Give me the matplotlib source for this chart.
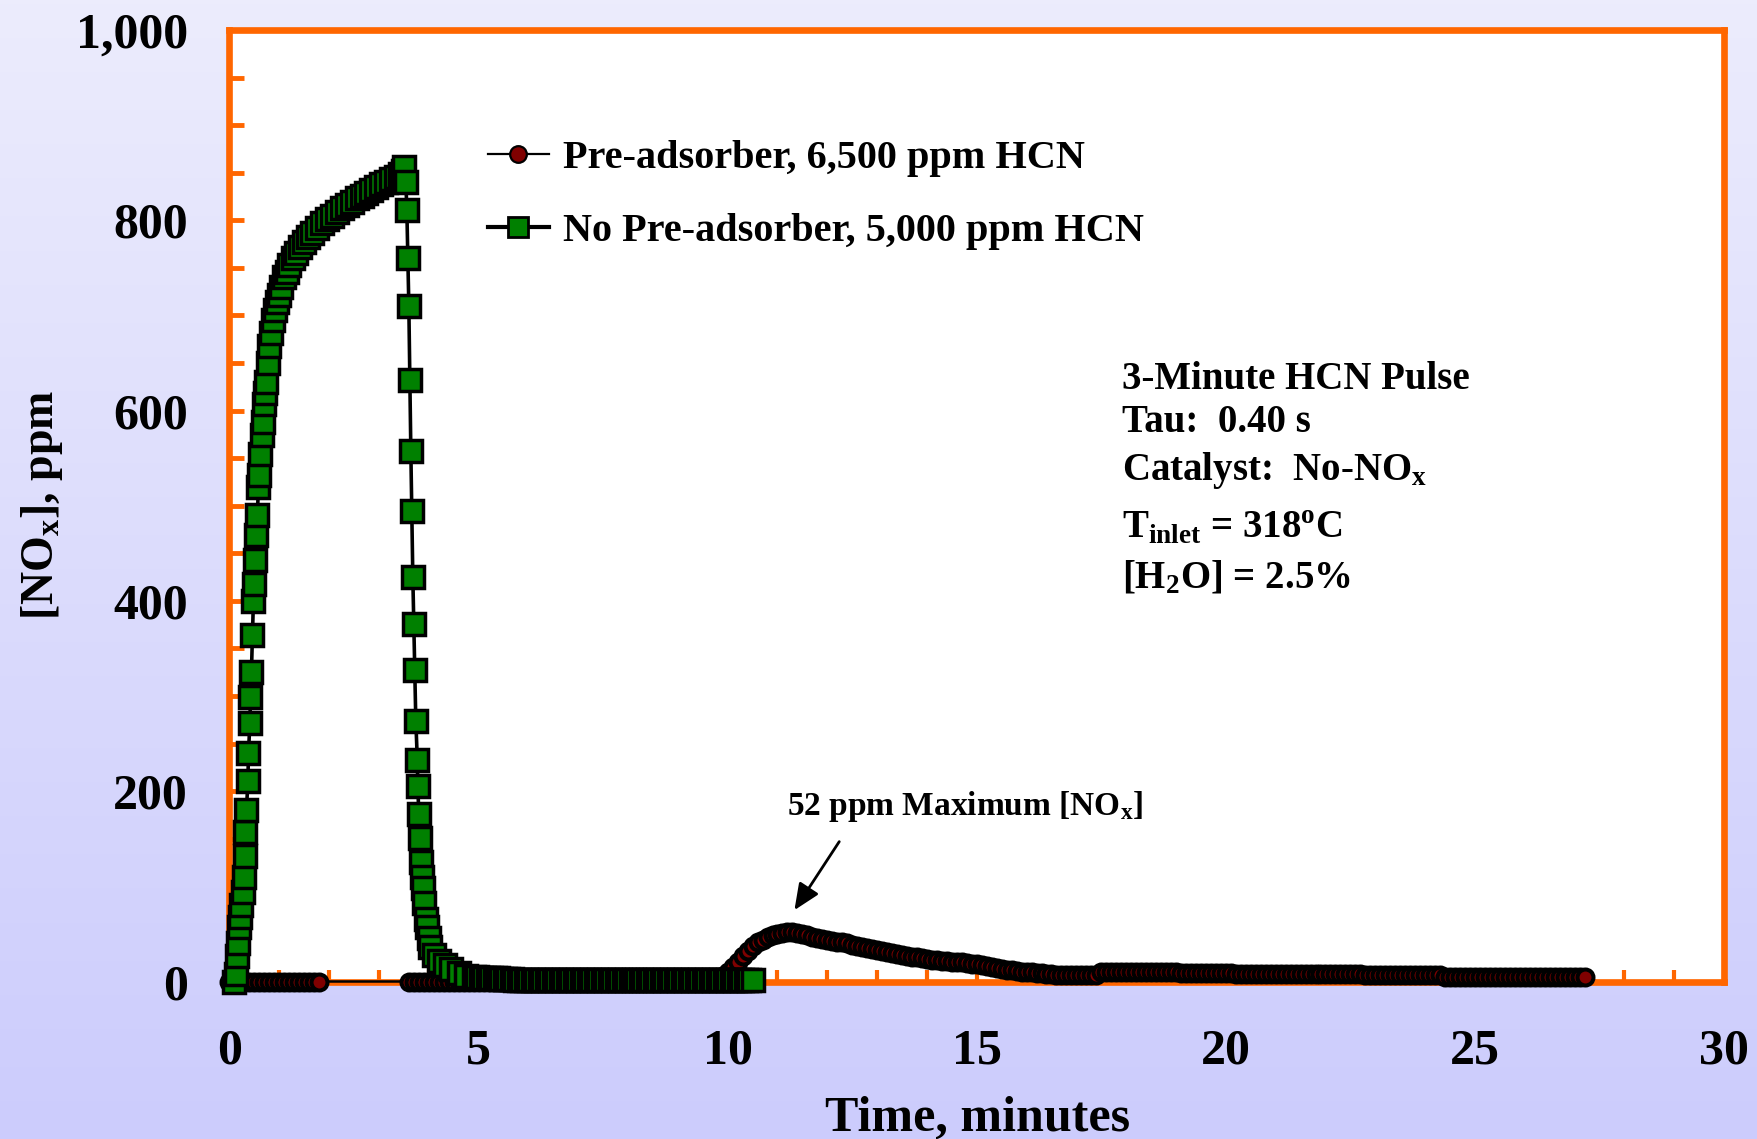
import numpy as np
import matplotlib
matplotlib.use("Agg")
import matplotlib.pyplot as plt
from matplotlib.lines import Line2D
from matplotlib.ticker import MultipleLocator, FuncFormatter

# ---------------------------------------------------------------- data
# Pre-adsorber run (6,500 ppm HCN): logged every 0.1 min in three stretches
red_step = 0.1
red_start_a = 0.0
red_vals_a = [0, 0, 0, 0, 0, 0, 0, 0, 0, 0,
              0, 0, 0, 0, 0, 0, 0, 0, 0]
red_start_b = 3.6
red_vals_b = [0, 0, 0, 0, 0, 0, 0, 0, 0, 0,
              0, 0, 0, 0, 0, 0, 0, 0, 0, 0,
              0, 0, 0, 0, 0, 0, 0, 0, 0, 0,
              0, 0, 0, 0, 0, 0, 0, 0, 0, 0,
              0, 0, 0, 0, 0, 0, 0, 0, 0, 0,
              0, 0, 0, 0, 0, 0, 0, 0, 0, 0,
              0]
red_start_c = 9.7
red_vals_c = [1, 3, 6, 10, 15, 21, 27, 32, 37, 41,
              44, 47, 49, 50, 51, 52, 52, 51, 50, 49,
              47, 46, 45, 44, 43, 42, 41, 40, 38.5, 37,
              36, 35, 34, 33, 32, 31, 30, 29, 28, 27,
              26, 25.5, 24.5, 24, 23, 22.5, 22, 21.5, 21, 20.5,
              20, 19, 18.5, 18, 17, 16, 15, 14, 13.5, 12.5,
              12, 11, 10.5, 10, 9.5, 9, 8.5, 8, 7.5, 7,
              7, 6.5, 6.5, 6.5, 6.5, 7, 7, 7, 10.5, 10.5,
              10.5, 10, 10, 10, 10, 10, 10, 10, 9.5, 9.5,
              9.5, 9.5, 9.5, 9.5, 9, 9, 9, 9, 9, 9,
              9, 9, 9, 9, 9, 7.5, 7.5, 7.5, 7.5, 7.5,
              7.5, 7.5, 7.5, 7.5, 7.5, 7.5, 7.5, 7.5, 7.5, 7.5,
              7.5, 7.5, 7.5, 7.5, 7.5, 7.5, 7.5, 7.5, 7.5, 7.5,
              7.5, 6.5, 6.5, 6.5, 6.5, 6.5, 6.5, 6.5, 6.5, 6.5,
              6.5, 6.5, 6.5, 6.5, 6.5, 6.5, 6.5, 5, 5, 5,
              5, 5, 5, 5, 5, 5, 5, 5, 5, 5,
              5, 5, 5, 5, 5, 5, 5, 5, 5, 5,
              5, 5, 5, 5, 5, 5]

# No pre-adsorber run (5,000 ppm HCN): breakthrough and purge
green_t = [0.10, 0.13, 0.16, 0.18, 0.20, 0.22, 0.24, 0.27, 0.29, 0.31,
           0.32, 0.34, 0.37, 0.38, 0.41, 0.42, 0.44, 0.46, 0.48, 0.50,
           0.52, 0.53, 0.56, 0.58, 0.60, 0.62, 0.65, 0.67, 0.69, 0.71,
           0.74, 0.77, 0.80, 0.84, 0.87, 0.91, 0.95, 0.99, 1.04, 1.10,
           1.15, 1.20, 1.27, 1.34, 1.42, 1.50, 1.58, 1.66, 1.75, 1.85,
           1.95, 2.05, 2.15, 2.25, 2.35, 2.45, 2.55, 2.65, 2.75, 2.85,
           2.95, 3.05, 3.15, 3.25, 3.35, 3.42, 3.48, 3.51,
           3.54, 3.56, 3.58, 3.60, 3.62, 3.64, 3.66, 3.68, 3.70, 3.72,
           3.74, 3.77, 3.78, 3.80, 3.82, 3.84, 3.86, 3.88, 3.91, 3.94,
           3.97, 4.00, 4.03, 4.10, 4.20, 4.32, 4.45, 4.60, 4.75]
green_v = [0, 8, 27, 40, 57, 68, 80, 94, 110, 132,
           157, 180, 211, 240, 272, 299, 325, 364, 400, 418,
           443, 469, 490, 520, 532, 554, 574, 588, 607, 619,
           630, 650, 668, 682, 695, 706, 714, 722, 730, 740,
           746, 753, 760, 766, 772, 777, 782, 787, 792, 797,
           801, 805, 809, 813, 816, 819, 823, 826, 829, 832,
           835, 838, 840, 843, 846, 849, 852, 856,
           840, 811, 760, 710, 632, 558, 494, 425, 376, 327,
           274, 233, 205, 176, 151, 126, 110, 98, 82, 66,
           57, 46, 36, 28, 22, 17, 13, 9, 6]
# after the purge the analyser sat on the baseline, logged every 0.07 min
green_step = 0.07
green_base_start = 4.9
green_base_vals = [5, 5, 4, 4, 4, 4, 4, 4, 3, 3,
                   3, 3, 2, 2, 2, 2, 2, 2, 2, 2,
                   2, 2, 2, 2, 2, 2, 2, 2, 2, 2,
                   2, 2, 2, 2, 2, 2, 2, 2, 2, 2,
                   2, 2, 2, 2, 2, 2, 2, 2, 2, 2,
                   2, 2, 2, 2, 2, 2, 2, 2, 2, 2,
                   2, 2, 2, 2, 2, 2, 2, 2, 2, 2,
                   2, 2, 2, 2, 2, 2, 2, 2, 2, 2,
                   2]

x_ticks = [0, 5, 10, 15, 20, 25, 30]
y_ticks = [0, 200, 400, 600, 800, 1000]

label_red = "Pre-adsorber, 6,500 ppm HCN"
label_green = "No Pre-adsorber, 5,000 ppm HCN"
peak_note = r"52 ppm Maximum [NO$_{x}$]"
peak_xy = (11.34, 75)
info_lines = ["3-Minute HCN Pulse",
              "Tau:  0.40 s",
              r"Catalyst:  No-NO$_{x}$",
              r"T$_{inlet}$ = 318$^{o}$C",
              r"[H$_{2}$O] = 2.5%"]


def seg_times(start, vals, step):
    return np.round(start + step * np.arange(len(vals)), 3)


red_t = np.concatenate([seg_times(red_start_a, red_vals_a, red_step),
                        seg_times(red_start_b, red_vals_b, red_step),
                        seg_times(red_start_c, red_vals_c, red_step)])
red_v = np.array(red_vals_a + red_vals_b + red_vals_c, dtype=float)

g_t = np.concatenate([np.array(green_t),
                      seg_times(green_base_start, green_base_vals, green_step)])
g_v = np.array(green_v + green_base_vals, dtype=float)

# ---------------------------------------------------------------- style
plt.rcParams["font.family"] = ["Liberation Serif", "DejaVu Serif"]
plt.rcParams["font.weight"] = "bold"
plt.rcParams["mathtext.fontset"] = "custom"
plt.rcParams["mathtext.rm"] = "Liberation Serif:bold"
plt.rcParams["mathtext.it"] = "Liberation Serif:bold"
plt.rcParams["mathtext.bf"] = "Liberation Serif:bold"

W, H = 1758, 1139
ORANGE = "#FF6600"
DARKRED = "#800000"
GREEN = "#008000"

fig = plt.figure(figsize=(W / 100, H / 100), dpi=100)


def fx(px):
    return px / W


def fy(py):
    return 1 - py / H


# soft lavender backdrop, lighter at the top
bg = fig.add_axes([0, 0, 1, 1], zorder=-10)
top_c = np.array([236, 236, 252]) / 255
bot_c = np.array([204, 204, 253]) / 255
frac = np.linspace(0, 1, 300)[:, None, None]
grad = top_c[None, None, :] * (1 - frac) + bot_c[None, None, :] * frac
grad = np.repeat(grad, 2, axis=1)
bg.imshow(grad, aspect="auto", extent=[0, 1, 0, 1], origin="upper")
bg.set_axis_off()

left, right, bottom, top = 229.5, 1724, 981.5, 30
ax = fig.add_axes([fx(left), fy(bottom), (right - left) / W, (bottom - top) / H])
ax.set_facecolor("white")
ax.set_xlim(0, 30)
ax.set_ylim(0, 1000)
ax.set_axisbelow(True)

ax.plot(red_t, red_v, color="black", lw=1.8, marker="o", ms=11.5,
        mfc=DARKRED, mec="black", mew=2.9, clip_on=False, zorder=3)
ax.plot(g_t, g_v, color="black", lw=2.6, marker="s", ms=16.5,
        mfc=GREEN, mec="black", mew=2.5, clip_on=False, zorder=4)

for s in ax.spines.values():
    s.set_color(ORANGE)
    s.set_linewidth(4.8)
    s.set_zorder(2.5)

ax.set_xticks(x_ticks)
ax.set_yticks(y_ticks)
ax.xaxis.set_minor_locator(MultipleLocator(1))
ax.yaxis.set_minor_locator(MultipleLocator(50))
ax.yaxis.set_major_formatter(FuncFormatter(lambda v, p: f"{v:,.0f}"))
ax.tick_params(axis="y", which="both", direction="in", length=11, width=3.5,
               color=ORANGE, labelsize=36, pad=30)
ax.tick_params(axis="x", which="both", direction="in", length=9, width=3,
               color=ORANGE, labelsize=36, pad=34)
ax.tick_params(top=False, right=False)
for lab in ax.get_xticklabels() + ax.get_yticklabels():
    lab.set_fontweight("bold")

# axis titles
fig.text(fx(978), fy(1131), "Time, minutes", ha="center", va="baseline",
         fontsize=36, fontweight="bold")
fig.text(fx(42), fy(505), r"[NO$_{x}$], ppm", ha="center", va="center",
         rotation=90, fontsize=33, fontweight="bold")

# legend
handles = [Line2D([], [], color="black", lw=1.6, marker="o", ms=12,
                  mfc=DARKRED, mec="black", mew=1.6),
           Line2D([], [], color="black", lw=3.0, marker="s", ms=15,
                  mfc=GREEN, mec="black", mew=2.0)]
leg = ax.legend(handles, [label_red, label_green], loc="center left",
                bbox_to_anchor=(fx(488), fy(195)), bbox_transform=fig.transFigure,
                frameon=False, fontsize=29, handlelength=1.51, handletextpad=0.35,
                labelspacing=0.9, borderpad=0, borderaxespad=0)
for t in leg.get_texts():
    t.set_fontweight("bold")

# run conditions
info_base = [389, 432, 480, 537, 588]
for line, yb in zip(info_lines, info_base):
    fig.text(fx(1122), fy(yb), line, ha="left", va="baseline",
             fontsize=28, fontweight="bold")

# peak callout
ax.annotate("", xy=peak_xy, xytext=(12.24, 147),
            arrowprops=dict(arrowstyle="-|>,head_length=0.8,head_width=0.35",
                            color="black", lw=2, mutation_scale=20,
                            shrinkA=0, shrinkB=0), zorder=5)
fig.text(fx(787), fy(815), peak_note, ha="left", va="baseline",
         fontsize=24, fontweight="bold")

fig.savefig("out.png", dpi=100)
